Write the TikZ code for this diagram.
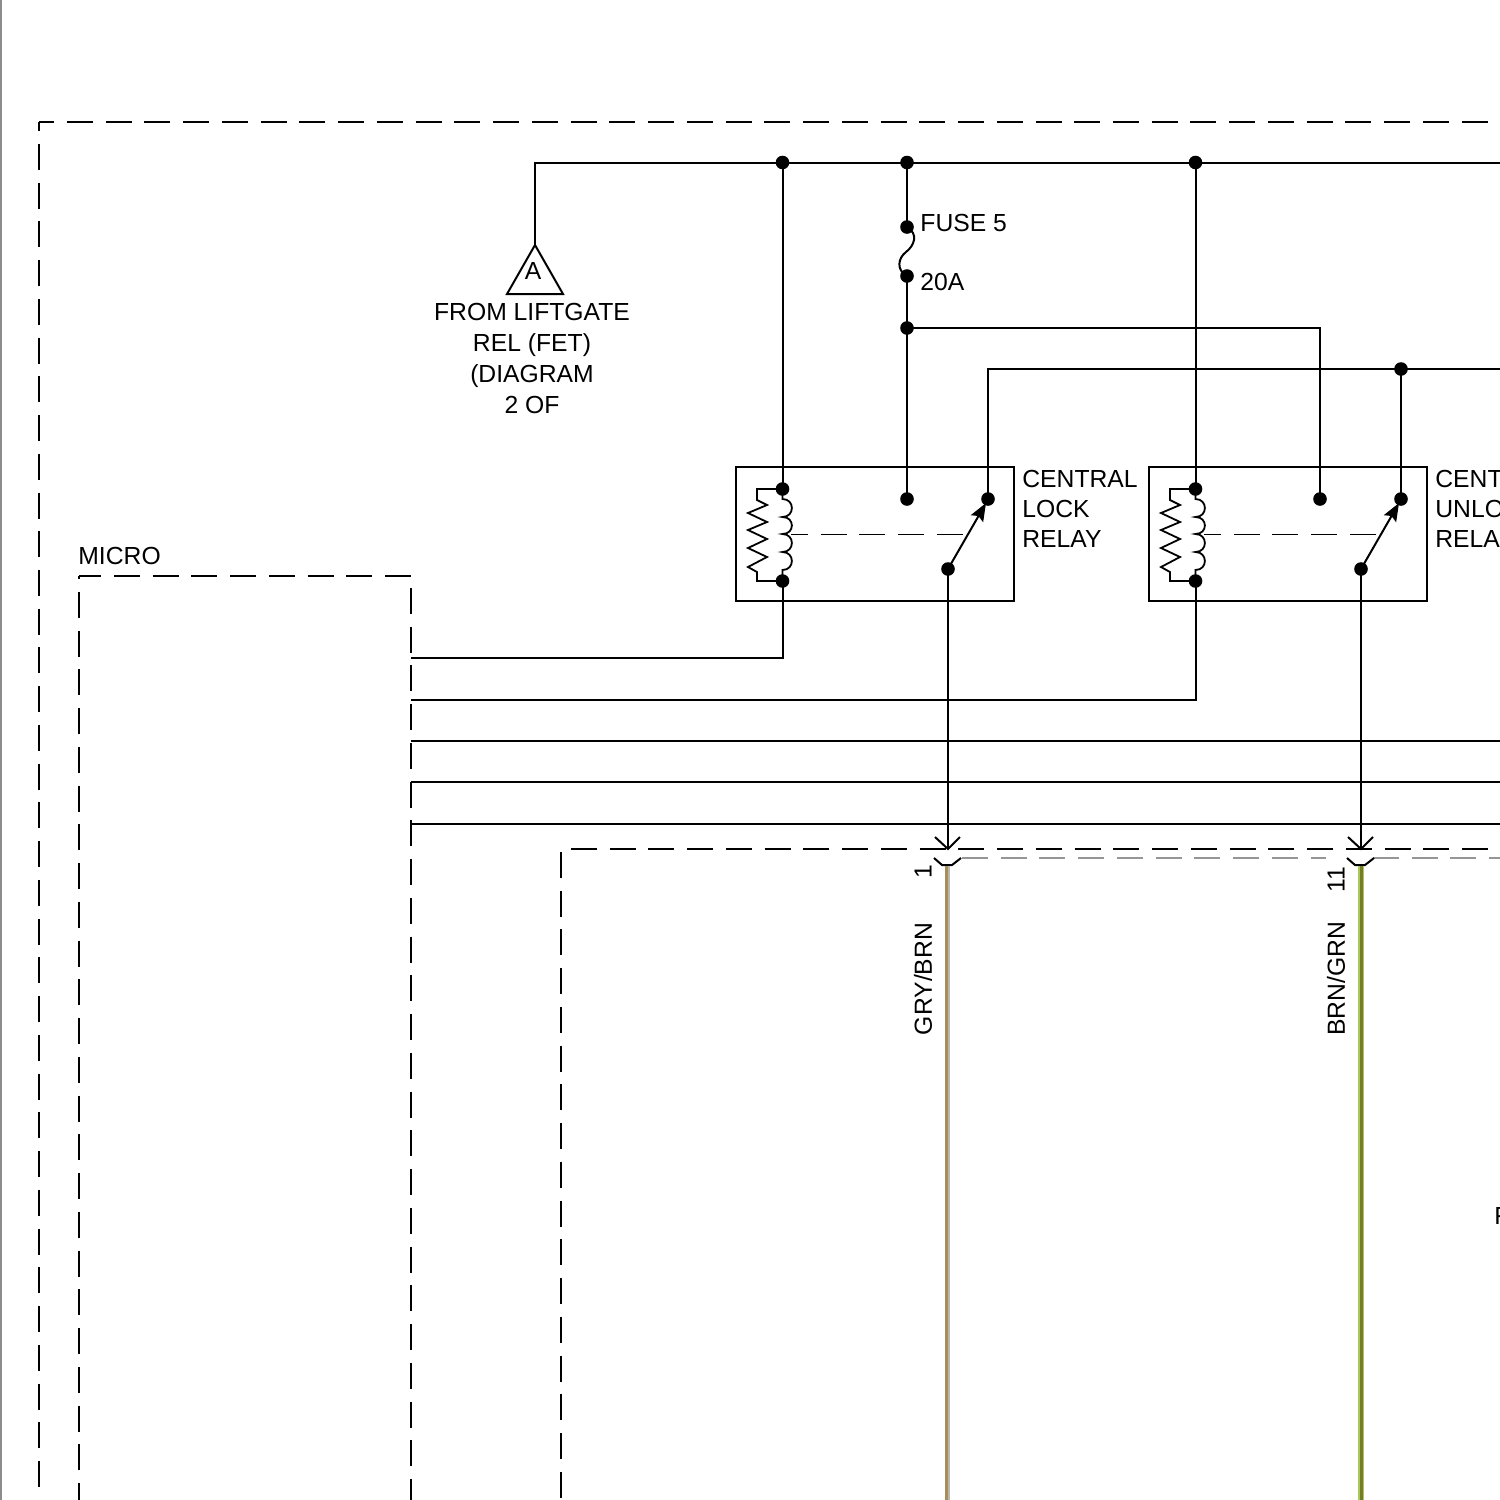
\documentclass[tikz,border=0pt]{standalone}
\usepackage{fontspec}
\setmainfont{Liberation Sans}
\usetikzlibrary{arrows.meta}
\definecolor{wiretan}{RGB}{168,140,90}
\definecolor{wiregray}{RGB}{150,150,150}
\definecolor{wirelt}{RGB}{185,185,175}
\definecolor{wiregreen}{RGB}{118,124,44}
\definecolor{wirelime}{RGB}{170,200,90}
\tikzset{
  x=0.5pt,y=-0.5pt,
  wire/.style={draw=black,line width=1pt},
  thinw/.style={draw=black,line width=0.9pt},
  dot/.style={circle,fill=black,draw=none,inner sep=0pt,minimum size=6.8pt},
  lbl/.style={font=\fontsize{12.35pt}{15pt}\selectfont,inner sep=0pt,text=black},
  lblr/.style={lbl,rotate=90},
  dashh/.style={draw=black,line width=1pt,dash pattern=on 13pt off 6.37pt},
  relaybox/.style={draw=black,line width=1pt,fill=none},
}
\newcommand{\relaysym}[2]{%
 \begin{scope}[xshift=#1*0.5pt]
  \draw[relaybox] (736,467) rectangle (1014,601);
  \node[dot] (#2c1) at (782.5,489) {};
  \node[dot] (#2c2) at (782.5,581) {};
  \node[dot] (#2no) at (907,499) {};
  \node[dot] (#2nc) at (988,499) {};
  \node[dot] (#2com) at (948,569) {};
  \draw[thinw] (#2c1.center) -- (782.5,499)
    .. controls (795,499) and (795,517) .. (782.5,517)
    .. controls (795,517) and (795,534) .. (782.5,534)
    .. controls (795,534) and (795,552) .. (782.5,552)
    .. controls (795,552) and (795,570) .. (782.5,570) -- (#2c2.center);
  \draw[thinw] (#2c1.center) -- (757,489) -- (757,500) -- (767,505) -- (748,513) -- (767,522) -- (748,530) -- (767,539) -- (748,548) -- (767,557) -- (748,567) -- (757,572) -- (757,581) -- (#2c2.center);
  \draw[draw=black,line width=0.45pt,dash pattern=on 13pt off 6.37pt,dash phase=4.5pt] (791,534) -- (964,534);
  \draw[wire,-{Stealth[length=9pt,width=7pt,inset=1.5pt]}] (#2com.center) -- (986,503);
 \end{scope}}
\begin{document}
\begin{tikzpicture}
\useasboundingbox (0,0) rectangle (1500,1500);
\clip (0,0) rectangle (1500,1500);
\fill[white] (0,0) rectangle (1500,1500);
% page edge
\draw[draw=black!45,line width=1pt] (1,0) -- (1,1500);
% dashed frames
\draw[dashh,dash phase=5.37pt] (39,122) -- (1500,122);
\draw[dashh,dash phase=8.45pt] (39,122) -- (39,1500);
\draw[dashh,dash phase=1.87pt] (79,576) -- (411,576);
\draw[dashh,dash phase=11.37pt] (79,576) -- (79,1500);
\draw[dashh,dash phase=13.37pt] (411,576) -- (411,1500);
\draw[dashh,dash phase=14.37pt] (561,849) -- (1500,849);
\draw[dashh,dash phase=17.87pt] (561,849) -- (561,1500);
\draw[draw=wiregray,line width=1pt,dash pattern=on 13pt off 6.37pt] (962,858) -- (1326,858);
\draw[draw=wiregray,line width=1pt,dash pattern=on 13pt off 6.37pt] (1373,858) -- (1500,858);
% relays
\relaysym{0}{a}
\relaysym{413}{b}
% junctions
\node[dot] (j1) at (782.5,162.5) {};
\node[dot] (j2) at (907,162.5) {};
\node[dot] (j3) at (1195.5,162.5) {};
\node[dot] (f1) at (907,227) {};
\node[dot] (f2) at (907,276) {};
\node[dot] (j4) at (907,328) {};
\node[dot] (j5) at (1401,369) {};
\coordinate (t) at (535,245);
\coordinate (eTop) at (1500,162.5);
\coordinate (eNc) at (1500,369);
\coordinate (m1) at (411,658);
\coordinate (m2) at (411,700);
\coordinate (m3) at (411,741);
\coordinate (m4) at (411,782);
\coordinate (m5) at (411,824);
\coordinate (e3) at (1500,741);
\coordinate (e4) at (1500,782);
\coordinate (e5) at (1500,824);
\coordinate (p1) at (948,849);
\coordinate (p2) at (1361,849);
% triangle
\draw[wire] (507,294) -- (t) -- (563,294) -- cycle;
\node[lbl] (tA) at (533,271) {A};
% top rail
\draw[wire] (t) -- (535,162.5) -- (eTop);
\draw[wire] (j1.center) -- (ac1.center);
\draw[wire] (j2.center) -- (f1.center);
\draw[wire] (f1.center) .. controls (919,234) and (914,246) .. (906,252) .. controls (898,258) and (896,270) .. (f2.center);
\draw[wire] (f2.center) -- (j4.center) -- (ano.center);
\draw[wire] (j3.center) -- (bc1.center);
\draw[wire] (j4.center) -- (1320,328) -- (bno.center);
\draw[wire] (anc.center) -- (988,369) -- (eNc);
\draw[wire] (j5.center) -- (bnc.center);
% coil returns
\draw[wire] (ac2.center) -- (782.5,658) -- (m1);
\draw[wire] (bc2.center) -- (1195.5,700) -- (m2);
\draw[wire] (m3) -- (e3);
\draw[wire] (m4) -- (e4);
\draw[wire] (m5) -- (e5);
% contact wires to connector
\draw[wire] (acom.center) -- (p1);
\draw[wire] (bcom.center) -- (p2);
\draw[wire] (935,837) -- (p1) -- (960,837);
\draw[wire] (1348,837) -- (p2) -- (1373,837);
% connector brackets
\draw[wire] (934,858) -- (942,865) -- (952,865) -- (961,858);
\draw[wire] (1347,858) -- (1355,865) -- (1365,865) -- (1374,858);
% coloured wires
\draw[draw=wirelt,line width=2.6pt] (947.5,866) -- (947.5,1500);
\draw[draw=wiretan,line width=1.3pt] (946.2,866) -- (946.2,1500);
\draw[draw=wirelime,line width=3pt] (1361,866) -- (1361,1500);
\draw[draw=wiregreen,line width=1.5pt] (1361,866) -- (1361,1500);
% labels
\node[lbl,align=center] (lift) at (532,358) {FROM LIFTGATE\\[0.5pt]REL (FET)\\[0.5pt](DIAGRAM\\[0.5pt]2 OF};
\node[lbl,anchor=west] (micro) at (78,555.5) {MICRO};
\node[lbl,anchor=west] (fuse) at (920,223) {FUSE 5};
\node[lbl,anchor=west] (amp) at (920,282) {20A};
\node[lbl,anchor=west,align=left] (lockl) at (1022,509) {CENTRAL\\LOCK\\RELAY};
\node[lbl,anchor=west,align=left] (unlockl) at (1435,509) {CENT\\UNLO\\RELA};
\node[lbl,anchor=west] (fx) at (1494,1216) {F};
\node[lblr] (n1) at (923,872) {1};
\node[lblr] (n11) at (1336,880) {11};
\node[lblr] (gb) at (923,979) {GRY/BRN};
\node[lblr] (bg) at (1336,979) {BRN/GRN};
\end{tikzpicture}
\end{document}
